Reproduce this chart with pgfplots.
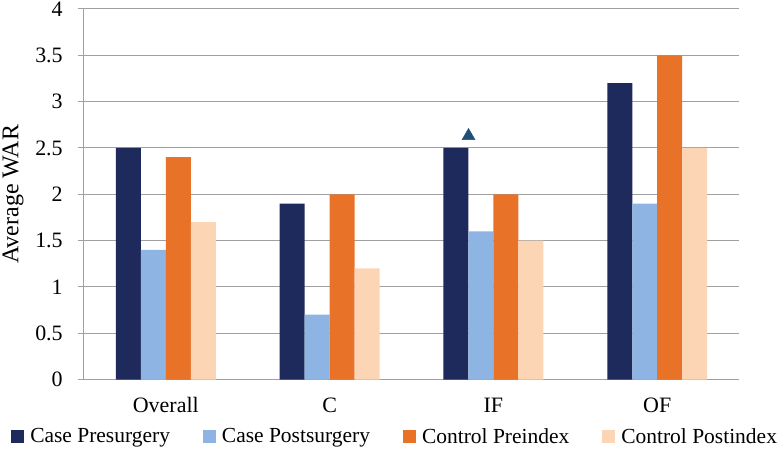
\documentclass[border=0pt]{standalone}
\usepackage{fontspec}
\setmainfont{Liberation Serif}
\usepackage{pgfplots}
\pgfplotsset{compat=1.18}

\definecolor{navy}{RGB}{31,42,92}
\definecolor{lblue}{RGB}{142,180,227}
\definecolor{orng}{RGB}{232,114,40}
\definecolor{peach}{RGB}{252,213,180}
\definecolor{tri}{RGB}{31,78,121}
\definecolor{gridgray}{RGB}{160,160,160}

\pgfplotsset{sqleg/.style={legend image code/.code={\fill[##1] (0pt,-6.5pt) rectangle (13pt,6.5pt);}}}

\begin{document}
\begin{tikzpicture}
\begin{axis}[
    scale only axis,
    width=656pt, height=371pt,
    ybar=0pt, bar width=25pt,
    xmin=-0.5, xmax=3.5,
    ymin=0, ymax=4,
    ytick={0,0.5,...,4},
    xtick={0,1,2,3},
    xticklabels={Overall,C,IF,OF},
    minor xtick={-0.5,0.5,1.5,2.5,3.5},
    axis x line*=bottom, axis y line*=left,
    axis line style={gridgray, line width=1pt},
    tick align=outside,
    major tick length=6pt, minor tick length=6pt,
    xtick style={draw=none},
    ytick style={gridgray, line width=1pt},
    minor x tick style={gridgray, line width=1pt},
    ymajorgrids,
    grid style={gridgray, line width=1pt},
    /pgf/number format/assume math mode=true,
    ticklabel style={font=\fontsize{22}{26}\selectfont, inner sep=0pt},
    yticklabel style={xshift=-15pt},
    xticklabel style={yshift=-12pt},
    ylabel={Average WAR},
    ylabel style={font=\fontsize{24}{28}\selectfont, inner sep=0pt, at={(axis description cs:-0.1082,0.5)}, anchor=center},
    legend columns=4,
    legend style={at={(0.475,-0.154)}, anchor=center, draw=none, inner sep=0pt,
        font=\fontsize{21.5}{25}\selectfont,
        /tikz/every odd column/.append style={column sep=4pt},
        /tikz/every even column/.append style={column sep=31pt}},
    legend cell align=left,
]
\addplot[fill=navy, draw=none, sqleg] coordinates {(0,2.5) (1,1.9) (2,2.5) (3,3.2)};
\addplot[fill=lblue, draw=none, sqleg] coordinates {(0,1.4) (1,0.7) (2,1.6) (3,1.9)};
\addplot[fill=orng, draw=none, sqleg] coordinates {(0,2.4) (1,2.0) (2,2.0) (3,3.5)};
\addplot[fill=peach, draw=none, sqleg] coordinates {(0,1.7) (1,1.2) (2,1.5) (3,2.5)};
\legend{Case Presurgery, Case Postsurgery, Control Preindex, Control Postindex}
\addplot[only marks, forget plot, mark=triangle*, mark size=7.5pt, color=tri] coordinates {(1.848,2.63)};
\end{axis}
\path (current axis.south west) ++(-84pt,-80pt);
\path (current axis.north east) ++(39pt,9pt);
\end{tikzpicture}
\end{document}
